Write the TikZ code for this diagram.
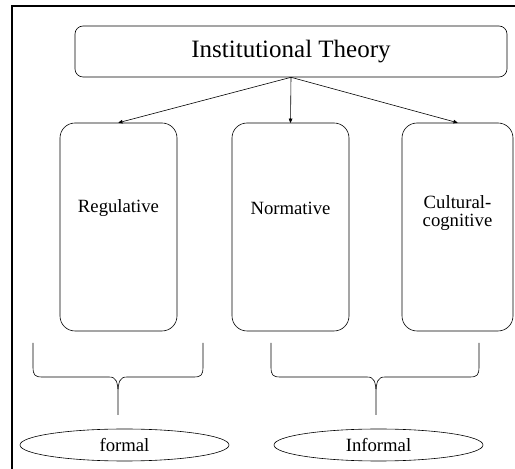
\documentclass[tikz,border=0pt]{standalone}
\usepackage{fontspec}
\setmainfont{Liberation Serif}
\newfontfamily\timesfont{Liberation Serif}
\usetikzlibrary{arrows, shapes.geometric}

\begin{document}
\begin{tikzpicture}[->,>=stealth',x=1pt,y=1pt,semithick,
    title/.style={draw, rounded corners=8pt, minimum width=432pt, minimum height=51pt, font=\timesfont\fontsize{25}{30}\selectfont},
    pillar/.style={draw, rounded corners=15pt, minimum height=208pt},
    word/.style={align=center, font=\timesfont\fontsize{18.7}{21}\selectfont},
    kind/.style={draw, ellipse, minimum width=209pt, minimum height=32pt, inner sep=0pt, font=\timesfont\fontsize{18.7}{21}\selectfont}]
	\useasboundingbox (0,0) rectangle (515,469);
	% frame on top and left
	\draw[-, line width=1.6pt] (12,0) -- (12,463) -- (515,463);

	\node[title]                       (theory) at (291,417.5) {Institutional Theory};
	\node[pillar, minimum width=117pt] (reg)    at (118.5,242) {};
	\node[pillar, minimum width=117pt] (norm)   at (290.5,242) {};
	\node[pillar, minimum width=111pt] (cult)   at (457.5,242) {};
	\node[word] (reg-t)  at ([yshift=19pt]reg.center)    {Regulative};
	\node[word] (norm-t) at ([yshift=19pt]norm.center)   {Normative};
	\node[word] (cult-t) at ([yshift=13.5pt]cult.center) {Cultural-\\[-3pt]cognitive};

	\draw (theory.south) -- (reg.north);
	\draw (theory.south) -- (norm.north);
	\draw (theory.south) -- (cult.north);

	% braces under the pillars
	\draw[-] (33,126) -- (33,102) .. controls (33,94) and (35,92) .. (42,92) -- (109,92)
		.. controls (116,92) and (118,88) .. (118,74) -- (118,54)
		(203,126) -- (203,102) .. controls (203,94) and (201,92) .. (194,92) -- (127,92)
		.. controls (120,92) and (118,88) .. (118,74);
	\draw[-] (271,126) -- (271,102) .. controls (271,94) and (273,92) .. (280,92) -- (367,92)
		.. controls (374,92) and (376,88) .. (376,74) -- (376,54)
		(479,126) -- (479,102) .. controls (479,94) and (477,92) .. (470,92) -- (385,92)
		.. controls (378,92) and (376,88) .. (376,74);

	\node[kind] (formal)   at (124.5,24) {formal};
	\node[kind] (informal) at (378.5,24) {Informal};
\end{tikzpicture}
\end{document}
